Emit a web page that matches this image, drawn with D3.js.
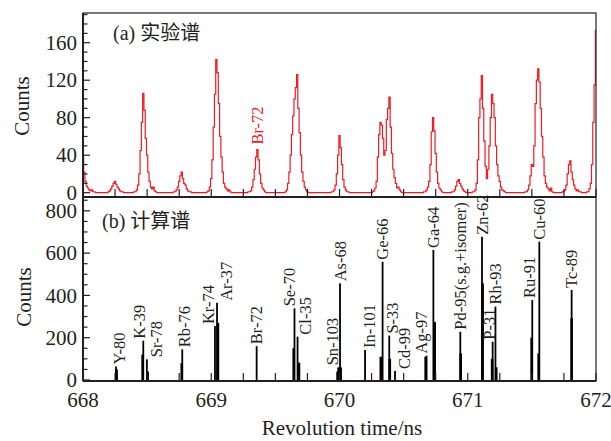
<!DOCTYPE html>
<html>
<head>
<meta charset="utf-8">
<script src="https://cdn.jsdelivr.net/npm/d3@7"></script>
<style>
  body { margin: 0; background: #fff; }
  text { font-family: "Liberation Serif", "Times New Roman", serif; fill: #231f20; }
  .cjk { font-family: "Noto Sans CJK SC", sans-serif; }
</style>
</head>
<body>
<div id="wrapper"></div>
<script>
// measured spectrum (a): [first bin time, counts per 0.01 ns bin]
const expSegments = [
  [668.00, [38, 22, 12, 7, 5, 3, 2, 3, 1, 1]],
  [668.20, [1, 2, 4, 7, 10, 12, 9, 6, 4, 2, 1, 1]],
  [668.40, [1, 1, 3, 8, 20, 45, 75, 106, 88, 58, 40, 22, 12, 6, 4, 6, 2, 1]],
  [668.71, [1, 1, 3, 6, 12, 18, 22, 15, 10, 8, 4, 2, 1, 1]],
  [668.97, [1, 2, 6, 15, 35, 70, 105, 142, 128, 95, 60, 38, 22, 10, 6, 4, 2, 3, 1]],
  [669.29, [1, 1, 2, 6, 14, 25, 38, 46, 35, 20, 10, 5, 3, 1]],
  [669.58, [1, 3, 10, 22, 40, 62, 82, 100, 112, 126, 90, 64, 40, 22, 12, 6, 3, 1]],
  [669.94, [1, 1, 3, 8, 20, 40, 61, 48, 30, 14, 6, 3, 1, 1]],
  [670.26, [1, 2, 5, 12, 38, 62, 75, 72, 58, 40, 45, 78, 90, 102, 70, 42, 25, 16, 10, 5, 6, 3, 1]],
  [670.66, [1, 1, 3, 6, 12, 30, 65, 80, 66, 42, 22, 10, 5, 3, 1]],
  [670.88, [1, 1, 3, 7, 12, 14, 10, 7, 4, 2, 1]],
  [671.04, [1, 1, 3, 10, 35, 80, 100, 125, 90, 55, 28, 15, 25, 50, 80, 105, 95, 80, 50, 30, 18, 12, 6, 3, 2, 1]],
  [671.45, [1, 1, 3, 8, 18, 30, 28, 50, 95, 120, 132, 118, 90, 60, 38, 18, 10, 6, 4, 2, 5, 1]],
  [671.74, [1, 1, 3, 8, 20, 30, 34, 22, 14, 8, 4, 2, 3, 1, 1]],
  [671.93, [1, 1, 4, 10, 30, 75, 115, 173]],
]
const expLabel = ["Br-72", 669.36, 46]

// calculated spectrum (b)
const isotopes = ["Y-80", "K-39", "Sr-78", "Rb-76", "Kr-74", "Ar-37", "Br-72", "Se-70", "Cl-35",
  "Sn-103", "As-68", "In-101", "Ge-66", "S-33", "Cd-99", "Ag-97", "Ga-64", "Pd-95(s.g.+isomer)",
  "Zn-62", "P-31", "Rh-93", "Ru-91", "Cu-60", "Tc-89"]
const isoTimes = [668.257, 668.470, 668.498, 668.774, 669.029, 669.045, 669.354, 669.649, 669.673,
  669.990, 670.004, 670.199, 670.336, 670.388, 670.433, 670.679, 670.732, 670.942,
  671.111, 671.194, 671.216, 671.503, 671.558, 671.810]
const isoCounts = [64, 186, 98, 145, 255, 365, 160, 339, 205,
  60, 457, 142, 559, 210, 43, 115, 615, 228,
  677, 181, 347, 378, 654, 426]
// neighbouring bins of the calculated peaks: [time, counts]
const sideBins = [
  [668.262, 50], [668.465, 120], [668.504, 40], [668.770, 80], [669.052, 270],
  [669.643, 150], [669.684, 82], [669.985, 40], [670.009, 60], [670.322, 110],
  [670.392, 100], [670.672, 110], [670.742, 275], [670.945, 126], [671.116, 457],
  [671.190, 100], [671.222, 60], [671.498, 200], [671.553, 126], [671.810, 292],
]

const xTicks = [668, 669, 670, 671, 672]
const yTicksTop = [0, 40, 80, 120, 160]
const yTicksBottom = [0, 200, 400, 600, 800]

// label nudges in px (to keep neighbouring labels apart)
const labelNudge = { "Y-80": 3, "K-39": -4, "Sr-78": 9, "Kr-74": -7, "Ar-37": 9, "Se-70": -5,
  "Cl-35": 8, "Sn-103": -6, "In-101": 4, "S-33": 3, "Cd-99": 9, "Ag-97": -5, "P-31": -3,
  "Ru-91": -3, "Rb-76": 2 }

function drawChart() {

  // 1. dimensions
  const dimensions = {
    width: 611,
    height: 441,
    left: 83,
    right: 596,
    top: 13,
    middle: 197,
    bottom: 381,
  }

  const wrapper = d3.select("#wrapper")
    .append("svg")
      .attr("width", dimensions.width)
      .attr("height", dimensions.height)

  // 2. scales
  const xScale = d3.scaleLinear()
    .domain([668, 672])
    .range([dimensions.left, dimensions.right])

  const yTop = d3.scaleLinear()
    .domain([-4.6, 191.7])
    .range([dimensions.middle, dimensions.top])

  const yBottom = d3.scaleLinear()
    .domain([-4.7, 865.3])
    .range([dimensions.bottom, dimensions.middle])

  // 3. measured spectrum
  const nBins = 401
  const expCounts = new Array(nBins).fill(0)
  expSegments.forEach(([start, counts]) => {
    const i0 = Math.round((start - 668) / 0.01)
    counts.forEach((c, k) => { if (i0 + k < nBins) expCounts[i0 + k] = c })
  })
  const expData = expCounts.map((c, i) => ({ t: 668 + i * 0.01, c }))

  wrapper.append("clipPath").attr("id", "clip-top")
    .append("rect")
      .attr("x", dimensions.left)
      .attr("y", dimensions.top)
      .attr("width", dimensions.right - dimensions.left)
      .attr("height", dimensions.middle - dimensions.top)

  const lineGenerator = d3.line()
    .x(d => xScale(d.t))
    .y(d => yTop(d.c))
    .curve(d3.curveStep)

  wrapper.append("path")
      .datum(expData)
      .attr("clip-path", "url(#clip-top)")
      .attr("d", lineGenerator)
      .attr("fill", "none")
      .attr("stroke", "#ec1c24")
      .attr("stroke-width", 1.2)

  wrapper.append("text")
      .attr("transform", `translate(${xScale(expLabel[1])}, ${yTop(expLabel[2]) - 5}) rotate(-90)`)
      .attr("dy", "0.35em")
      .style("font-size", "16.5px")
      .style("fill", "#ec1c24")
      .text(expLabel[0])

  // 4. calculated spectrum
  const bars = wrapper.append("g")
  bars.selectAll(".side")
    .data(sideBins)
    .enter().append("rect")
      .attr("x", d => xScale(d[0]) - 1.3)
      .attr("y", d => yBottom(d[1]))
      .attr("width", 2.6)
      .attr("height", d => dimensions.bottom - yBottom(d[1]))
      .attr("fill", "#000")

  const isoData = isotopes.map((name, i) => ({ name, t: isoTimes[i], c: isoCounts[i] }))

  bars.selectAll(".main")
    .data(isoData)
    .enter().append("rect")
      .attr("x", d => xScale(d.t) - 0.9)
      .attr("y", d => yBottom(d.c))
      .attr("width", 1.8)
      .attr("height", d => dimensions.bottom - yBottom(d.c))
      .attr("fill", "#000")

  wrapper.append("g").selectAll("text")
    .data(isoData)
    .enter().append("text")
      .attr("transform", d => `translate(${xScale(d.t) + (labelNudge[d.name] || 0)}, ${yBottom(d.c) - 2}) rotate(-90)`)
      .attr("dy", "0.35em")
      .style("font-size", "16.5px")
      .text(d => d.name)

  // 5. axes and frames
  const axisColor = "#231f20"
  const frame = wrapper.append("g")

  ;[[dimensions.top, dimensions.middle], [dimensions.middle, dimensions.bottom]].forEach(([y0, y1]) => {
    frame.append("rect")
        .attr("x", dimensions.left)
        .attr("y", y0)
        .attr("width", dimensions.right - dimensions.left)
        .attr("height", y1 - y0)
        .attr("fill", "none")
        .attr("stroke", axisColor)
        .attr("stroke-width", 1.2)
  })

  frame.append("line")
      .attr("x1", dimensions.left).attr("x2", dimensions.left)
      .attr("y1", dimensions.top).attr("y2", dimensions.bottom)
      .attr("stroke", axisColor).attr("stroke-width", 2)
  ;[dimensions.middle, dimensions.bottom].forEach(y => {
    frame.append("line")
        .attr("x1", dimensions.left).attr("x2", dimensions.right)
        .attr("y1", y).attr("y2", y)
        .attr("stroke", axisColor).attr("stroke-width", 2)
  })

  // x ticks every 0.25 ns, pointing up into both panels
  const xMinor = d3.range(668, 672.001, 0.25)
  ;[dimensions.middle, dimensions.bottom].forEach(y => {
    frame.selectAll(null)
      .data(xMinor)
      .enter().append("line")
        .attr("x1", d => xScale(d)).attr("x2", d => xScale(d))
        .attr("y1", y).attr("y2", y - 8)
        .attr("stroke", axisColor).attr("stroke-width", 1.2)
  })

  frame.selectAll(".x-label")
    .data(xTicks)
    .enter().append("text")
      .attr("x", d => xScale(d))
      .attr("y", 407)
      .attr("text-anchor", "middle")
      .style("font-size", "21px")
      .text(d => d)

  // y ticks
  const drawYAxis = (scale, majors, minorStep, maxVal) => {
    const minors = d3.range(0, maxVal, minorStep)
    frame.selectAll(null)
      .data(minors)
      .enter().append("line")
        .attr("x1", dimensions.left)
        .attr("x2", d => dimensions.left + (majors.includes(d) ? 7 : 4.5))
        .attr("y1", d => scale(d)).attr("y2", d => scale(d))
        .attr("stroke", axisColor).attr("stroke-width", 1.2)

    frame.selectAll(null)
      .data(majors)
      .enter().append("text")
        .attr("x", 77)
        .attr("y", d => scale(d))
        .attr("dy", "0.34em")
        .attr("text-anchor", "end")
        .style("font-size", "21px")
        .text(d => d)
  }
  drawYAxis(yTop, yTicksTop, 10, 191)
  drawYAxis(yBottom, yTicksBottom, 50, 865)

  // 6. titles
  const countsLabels = [[29, 106], [31, 297]]
  countsLabels.forEach(([x, y]) => {
    wrapper.append("text")
        .attr("transform", `translate(${x}, ${y}) rotate(-90)`)
        .attr("text-anchor", "middle")
        .style("font-size", "21px")
        .text("Counts")
  })

  wrapper.append("text")
      .attr("x", 342)
      .attr("y", 435)
      .attr("text-anchor", "middle")
      .style("font-size", "21px")
      .text("Revolution time/ns")

  const panelLabels = [["(a) ", "实验谱", 113, 40], ["(b) ", "计算谱", 102, 228]]
  panelLabels.forEach(([tag, name, x, y]) => {
    const t = wrapper.append("text")
        .attr("x", x)
        .attr("y", y)
        .style("font-size", "20px")
    t.append("tspan").text(tag)
    t.append("tspan").attr("class", "cjk").style("font-size", "20px").text(name)
  })
}
drawChart()
</script>
</body>
</html>
